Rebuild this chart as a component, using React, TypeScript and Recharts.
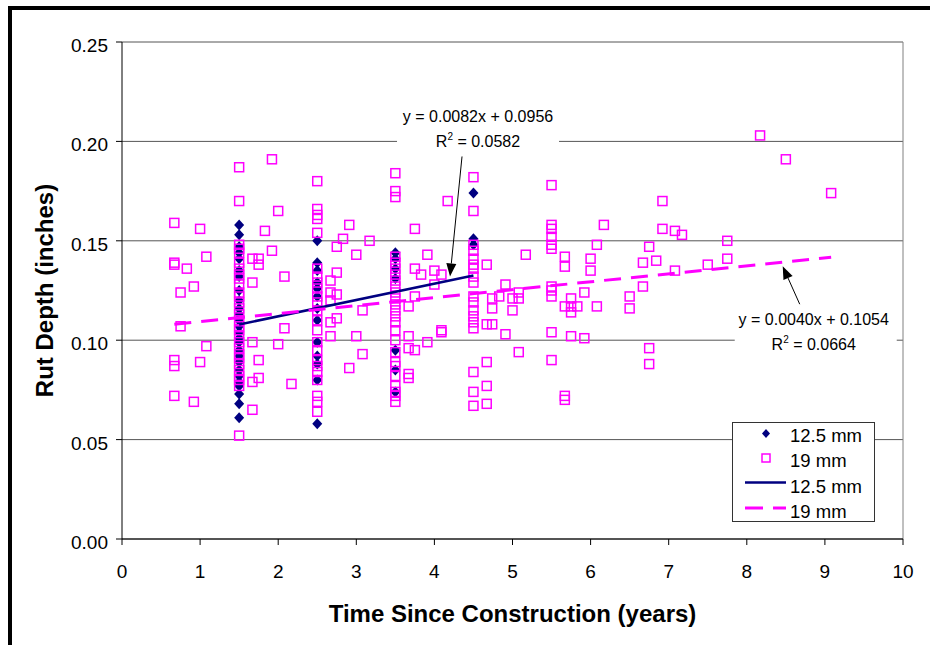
import React from 'react';
import { ScatterChart, Scatter, XAxis, YAxis, CartesianGrid, ReferenceLine, Label } from 'recharts';

const FONT = '"Liberation Sans", Arial, Helvetica, sans-serif';
const NAVY = '#000080';
const MAGENTA = '#FF00FF';

// Axis ticks
const X_TICKS = [0, 1, 2, 3, 4, 5, 6, 7, 8, 9, 10];
const Y_TICKS = [0, 0.05, 0.1, 0.15, 0.2, 0.25];

// Series names
const SERIES_125 = '12.5 mm';
const SERIES_19 = '19 mm';

// 12.5 mm sections: rut depth (in.) measured at each survey age (years)
const rut125At15 = [0.158, 0.153, 0.147, 0.144, 0.141, 0.135, 0.132, 0.125, 0.120, 0.116, 0.113, 0.110, 0.107, 0.104, 0.101, 0.099, 0.095, 0.092, 0.089, 0.085, 0.082, 0.079, 0.077, 0.073, 0.068, 0.061];
const rut125At25 = [0.150, 0.139, 0.135, 0.129, 0.126, 0.122, 0.116, 0.110, 0.099, 0.092, 0.088, 0.080, 0.058];
const rut125At35 = [0.144, 0.141, 0.136, 0.131, 0.095, 0.085, 0.074];
const rut125At45 = [0.174, 0.151, 0.148];

// 19 mm sections at the main survey ages
const rut19At15 = [0.187, 0.170, 0.148, 0.146, 0.144, 0.139, 0.136, 0.133, 0.131, 0.128, 0.124, 0.122, 0.119, 0.116, 0.113, 0.110, 0.107, 0.105, 0.102, 0.099, 0.096, 0.093, 0.091, 0.088, 0.085, 0.082, 0.080, 0.077, 0.052];
const rut19At25 = [0.180, 0.166, 0.163, 0.161, 0.154, 0.136, 0.132, 0.129, 0.126, 0.122, 0.119, 0.115, 0.110, 0.105, 0.099, 0.095, 0.090, 0.087, 0.084, 0.080, 0.072, 0.069, 0.064];
const rut19At35 = [0.184, 0.175, 0.172, 0.142, 0.139, 0.136, 0.133, 0.130, 0.127, 0.124, 0.121, 0.118, 0.115, 0.112, 0.109, 0.105, 0.100, 0.094, 0.089, 0.087, 0.082, 0.077, 0.074, 0.072, 0.069];
const rut19At45 = [0.182, 0.165, 0.148, 0.145, 0.141, 0.138, 0.136, 0.132, 0.129, 0.122, 0.119, 0.115, 0.112, 0.109, 0.106, 0.084, 0.074, 0.067];

// 19 mm sections at other ages: [years, rut depth]
const rut19Other: [number, number][] = [
  [0.67, 0.159], [0.67, 0.139], [0.67, 0.138], [0.67, 0.090], [0.67, 0.087], [0.67, 0.072],
  [0.75, 0.124], [0.75, 0.107], [0.83, 0.136], [0.92, 0.127], [0.92, 0.069],
  [1.0, 0.156], [1.0, 0.089], [1.08, 0.142], [1.08, 0.097],
  [1.67, 0.141], [1.67, 0.129], [1.67, 0.099], [1.67, 0.079], [1.67, 0.065],
  [1.75, 0.141], [1.75, 0.138], [1.75, 0.090], [1.75, 0.081],
  [1.83, 0.155], [1.92, 0.191], [1.92, 0.145], [2.0, 0.165], [2.0, 0.098],
  [2.08, 0.132], [2.08, 0.106], [2.17, 0.078],
  [2.67, 0.130], [2.67, 0.124], [2.67, 0.120], [2.67, 0.109], [2.67, 0.102],
  [2.75, 0.147], [2.75, 0.134], [2.75, 0.123], [2.75, 0.111],
  [2.83, 0.151], [2.91, 0.158], [2.91, 0.086], [3.0, 0.143], [3.0, 0.102],
  [3.08, 0.115], [3.08, 0.093], [3.17, 0.150],
  [3.67, 0.117], [3.67, 0.102], [3.67, 0.096], [3.67, 0.083], [3.67, 0.081],
  [3.75, 0.156], [3.75, 0.136], [3.75, 0.122], [3.75, 0.095],
  [3.83, 0.133], [3.91, 0.143], [3.91, 0.099], [4.0, 0.135], [4.0, 0.128],
  [4.09, 0.133], [4.09, 0.105], [4.09, 0.104], [4.17, 0.170],
  [4.67, 0.138], [4.67, 0.108], [4.67, 0.089], [4.67, 0.077], [4.67, 0.068],
  [4.74, 0.121], [4.74, 0.116], [4.74, 0.108], [4.83, 0.122],
  [4.91, 0.128], [4.91, 0.103], [5.0, 0.121], [5.0, 0.115],
  [5.08, 0.124], [5.08, 0.121], [5.08, 0.094], [5.17, 0.143],
  [5.5, 0.178], [5.5, 0.158], [5.5, 0.156], [5.5, 0.152], [5.5, 0.148], [5.5, 0.146],
  [5.5, 0.127], [5.5, 0.125], [5.5, 0.122], [5.5, 0.104], [5.5, 0.090],
  [5.67, 0.142], [5.67, 0.137], [5.67, 0.117], [5.67, 0.072], [5.67, 0.070],
  [5.75, 0.121], [5.75, 0.117], [5.75, 0.114], [5.75, 0.102], [5.83, 0.117],
  [5.92, 0.124], [5.92, 0.101], [6.0, 0.141], [6.0, 0.135], [6.08, 0.148], [6.08, 0.117],
  [6.17, 0.158], [6.5, 0.122], [6.5, 0.116], [6.67, 0.139], [6.67, 0.127],
  [6.75, 0.147], [6.75, 0.096], [6.75, 0.088], [6.84, 0.140], [6.92, 0.170], [6.92, 0.156],
  [7.08, 0.155], [7.08, 0.135], [7.17, 0.153], [7.5, 0.138], [7.75, 0.150], [7.75, 0.141],
  [8.17, 0.203], [8.5, 0.191], [9.08, 0.174],
];

// Linear trendlines (coefficients as printed on the chart) and their fitted ranges
const TREND_125 = { slope: 0.0082, intercept: 0.0956, r2: '0.0582', from: 1.5, to: 4.5, callout: 4.2 };
const TREND_19 = { slope: 0.0040, intercept: 0.1054, r2: '0.0664', from: 0.67, to: 9.08, callout: 8.46 };

const column = (x: number, ys: number[]) => ys.map((y) => ({ x, y }));
const fit = (t: typeof TREND_125, x: number) => ({ x, y: t.intercept + t.slope * x });

const data125 = [
  ...column(1.5, rut125At15),
  ...column(2.5, rut125At25),
  ...column(3.5, rut125At35),
  ...column(4.5, rut125At45),
];
const data19 = [
  ...rut19Other.map(([x, y]) => ({ x, y })),
  ...column(1.5, rut19At15),
  ...column(2.5, rut19At25),
  ...column(3.5, rut19At35),
  ...column(4.5, rut19At45),
];
const line125 = [fit(TREND_125, TREND_125.from), fit(TREND_125, TREND_125.to)];
const line19 = [fit(TREND_19, TREND_19.from), fit(TREND_19, TREND_19.to)];
const callout125 = [fit(TREND_125, TREND_125.callout)];
const callout19 = [fit(TREND_19, TREND_19.callout)];

const eqText = (t: typeof TREND_125) => `y = ${t.slope.toFixed(4)}x + ${t.intercept.toFixed(4)}`;

const SquareMark = (p: any) => (
  <rect x={p.cx - 4.5} y={p.cy - 4.5} width={9} height={9} fill="none" stroke={MAGENTA} strokeWidth={1.5} />
);
const DiamondMark = (p: any) => (
  <polygon points={`${p.cx},${p.cy - 5.5} ${p.cx + 5},${p.cy} ${p.cx},${p.cy + 5.5} ${p.cx - 5},${p.cy}`} fill={NAVY} />
);
const NoMark = () => <g />;

const Arrow = ({ x1, y1, x2, y2 }: { x1: number; y1: number; x2: number; y2: number }) => {
  const dx = x2 - x1;
  const dy = y2 - y1;
  const len = Math.hypot(dx, dy);
  const ux = dx / len;
  const uy = dy / len;
  const hl = 13;
  const hw = 5;
  const bx = x2 - ux * hl;
  const by = y2 - uy * hl;
  const px = -uy;
  const py = ux;
  return (
    <g>
      <line x1={x1} y1={y1} x2={bx} y2={by} stroke="#000" strokeWidth={1} />
      <polygon points={`${x2},${y2} ${bx + px * hw},${by + py * hw} ${bx - px * hw},${by - py * hw}`} fill="#000" />
    </g>
  );
};

// Equation box + arrow pointing at the fitted line
const makeCallout = (t: typeof TREND_125, layout: {
  tip: number; tail: [number, number]; box: [number, number, number, number]; text: [number, number];
}) => (p: any) => {
  const tx = p.cx;
  const ty = p.cy + layout.tip;
  const [bx, by, bw, bh] = layout.box;
  const [cx, cy] = layout.text;
  return (
    <g fontFamily={FONT} fontSize={16} fill="#000">
      <rect x={tx + bx} y={ty + by} width={bw} height={bh} fill="#fff" />
      <text x={tx + cx} y={ty + cy} textAnchor="middle">{eqText(t)}</text>
      <text x={tx + cx} y={ty + cy + 25} textAnchor="middle">
        <tspan>R</tspan>
        <tspan dy={-7} fontSize={10}>2</tspan>
        <tspan dy={7}>{` = ${t.r2}`}</tspan>
      </text>
      <Arrow x1={tx + layout.tail[0]} y1={ty + layout.tail[1]} x2={tx} y2={ty} />
    </g>
  );
};

const Callout125 = makeCallout(TREND_125, { tip: -4, tail: [12, -120], box: [-53, -175, 162, 51], text: [28, -154] });
const Callout19 = makeCallout(TREND_19, { tip: 4, tail: [17, 38], box: [-48, 39, 162, 52], text: [31, 59] });

const YTick = (p: any) => (
  <text x={p.x} y={p.y} dy={10} textAnchor="end" fontSize={19} fontFamily={FONT} fill="#000">
    {Number(p.payload.value).toFixed(2)}
  </text>
);
const XTick = (p: any) => (
  <text x={p.x} y={p.y} dy={33} textAnchor="middle" fontSize={19} fontFamily={FONT} fill="#000">
    {p.payload.value}
  </text>
);

const XTitle = (p: any) => {
  const vb = p.viewBox || { x: 122, y: 539, width: 781, height: 60 };
  return (
    <text x={vb.x + vb.width / 2} y={vb.y + 83} textAnchor="middle" fontSize={24} fontWeight="bold" fontFamily={FONT} fill="#000">
      Time Since Construction (years)
    </text>
  );
};
const YTitle = (p: any) => {
  const vb = p.viewBox || { x: 0, y: 42, width: 122, height: 497 };
  const x = vb.x + 53;
  const y = vb.y + vb.height / 2;
  return (
    <text x={x} y={y} transform={`rotate(-90, ${x}, ${y})`} textAnchor="middle" fontSize={24} fontWeight="bold" fontFamily={FONT} fill="#000">
      Rut Depth (inches)
    </text>
  );
};

const LegendBox = () => (
  <div style={{ position: 'absolute', left: 732, top: 422, width: 143, height: 100, boxSizing: 'border-box', border: '1px solid #333', background: '#fff' }}>
    <svg width={141} height={98} style={{ display: 'block' }} fontFamily={FONT} fontSize={18.5}>
      <polygon points="33,6 37,10.5 33,15 29,10.5" fill={NAVY} />
      <text x={57} y={18.5}>{SERIES_125}</text>
      <rect x={29} y={31} width={8} height={8} fill="none" stroke={MAGENTA} strokeWidth={1.5} />
      <text x={57} y={44}>{SERIES_19}</text>
      <line x1={12} y1={59.5} x2={53} y2={59.5} stroke={NAVY} strokeWidth={2.5} />
      <text x={57} y={69.5}>{SERIES_125}</text>
      <line x1={12} y1={85} x2={53} y2={85} stroke={MAGENTA} strokeWidth={3} strokeDasharray="18 10" />
      <text x={57} y={95}>{SERIES_19}</text>
    </svg>
  </div>
);

export default function App() {
  return (
    <div style={{ position: 'absolute', left: 0, top: 0, width: 930, height: 645, overflow: 'hidden', background: '#fff' }}>
      <ScatterChart width={930} height={645} margin={{ top: 42, right: 27, bottom: 46, left: 0 }}>
        <CartesianGrid horizontal vertical={false} stroke="#555" />
        <XAxis
          type="number"
          dataKey="x"
          domain={[0, 10]}
          ticks={X_TICKS}
          height={60}
          tickSize={6}
          tickMargin={0}
          axisLine={{ stroke: '#000' }}
          tickLine={{ stroke: '#000' }}
          tick={<XTick />}
          interval={0}
        >
          <Label content={<XTitle />} position="bottom" />
        </XAxis>
        <YAxis
          type="number"
          dataKey="y"
          domain={[0, 0.25]}
          ticks={Y_TICKS}
          width={122}
          tickSize={6}
          tickMargin={8}
          axisLine={{ stroke: '#000' }}
          tickLine={{ stroke: '#000' }}
          tick={<YTick />}
          interval={0}
        >
          <Label content={<YTitle />} position="left" />
        </YAxis>
        <ReferenceLine x={10} stroke="#808080" />
        <Scatter name={SERIES_125} data={data125} shape={DiamondMark} isAnimationActive={false} />
        <Scatter name={SERIES_19} data={data19} shape={SquareMark} isAnimationActive={false} />
        <Scatter data={line125} shape={NoMark} line={{ stroke: NAVY, strokeWidth: 2.5 }} isAnimationActive={false} />
        <Scatter data={line19} shape={NoMark} line={{ stroke: MAGENTA, strokeWidth: 3, strokeDasharray: '17 10' }} isAnimationActive={false} />
        <Scatter data={callout125} shape={Callout125} isAnimationActive={false} />
        <Scatter data={callout19} shape={Callout19} isAnimationActive={false} />
      </ScatterChart>
      <LegendBox />
      <div style={{ position: 'absolute', left: 8, top: 6, width: 1000, height: 1000, boxSizing: 'border-box', border: '4px solid #000' }} />
    </div>
  );
}
